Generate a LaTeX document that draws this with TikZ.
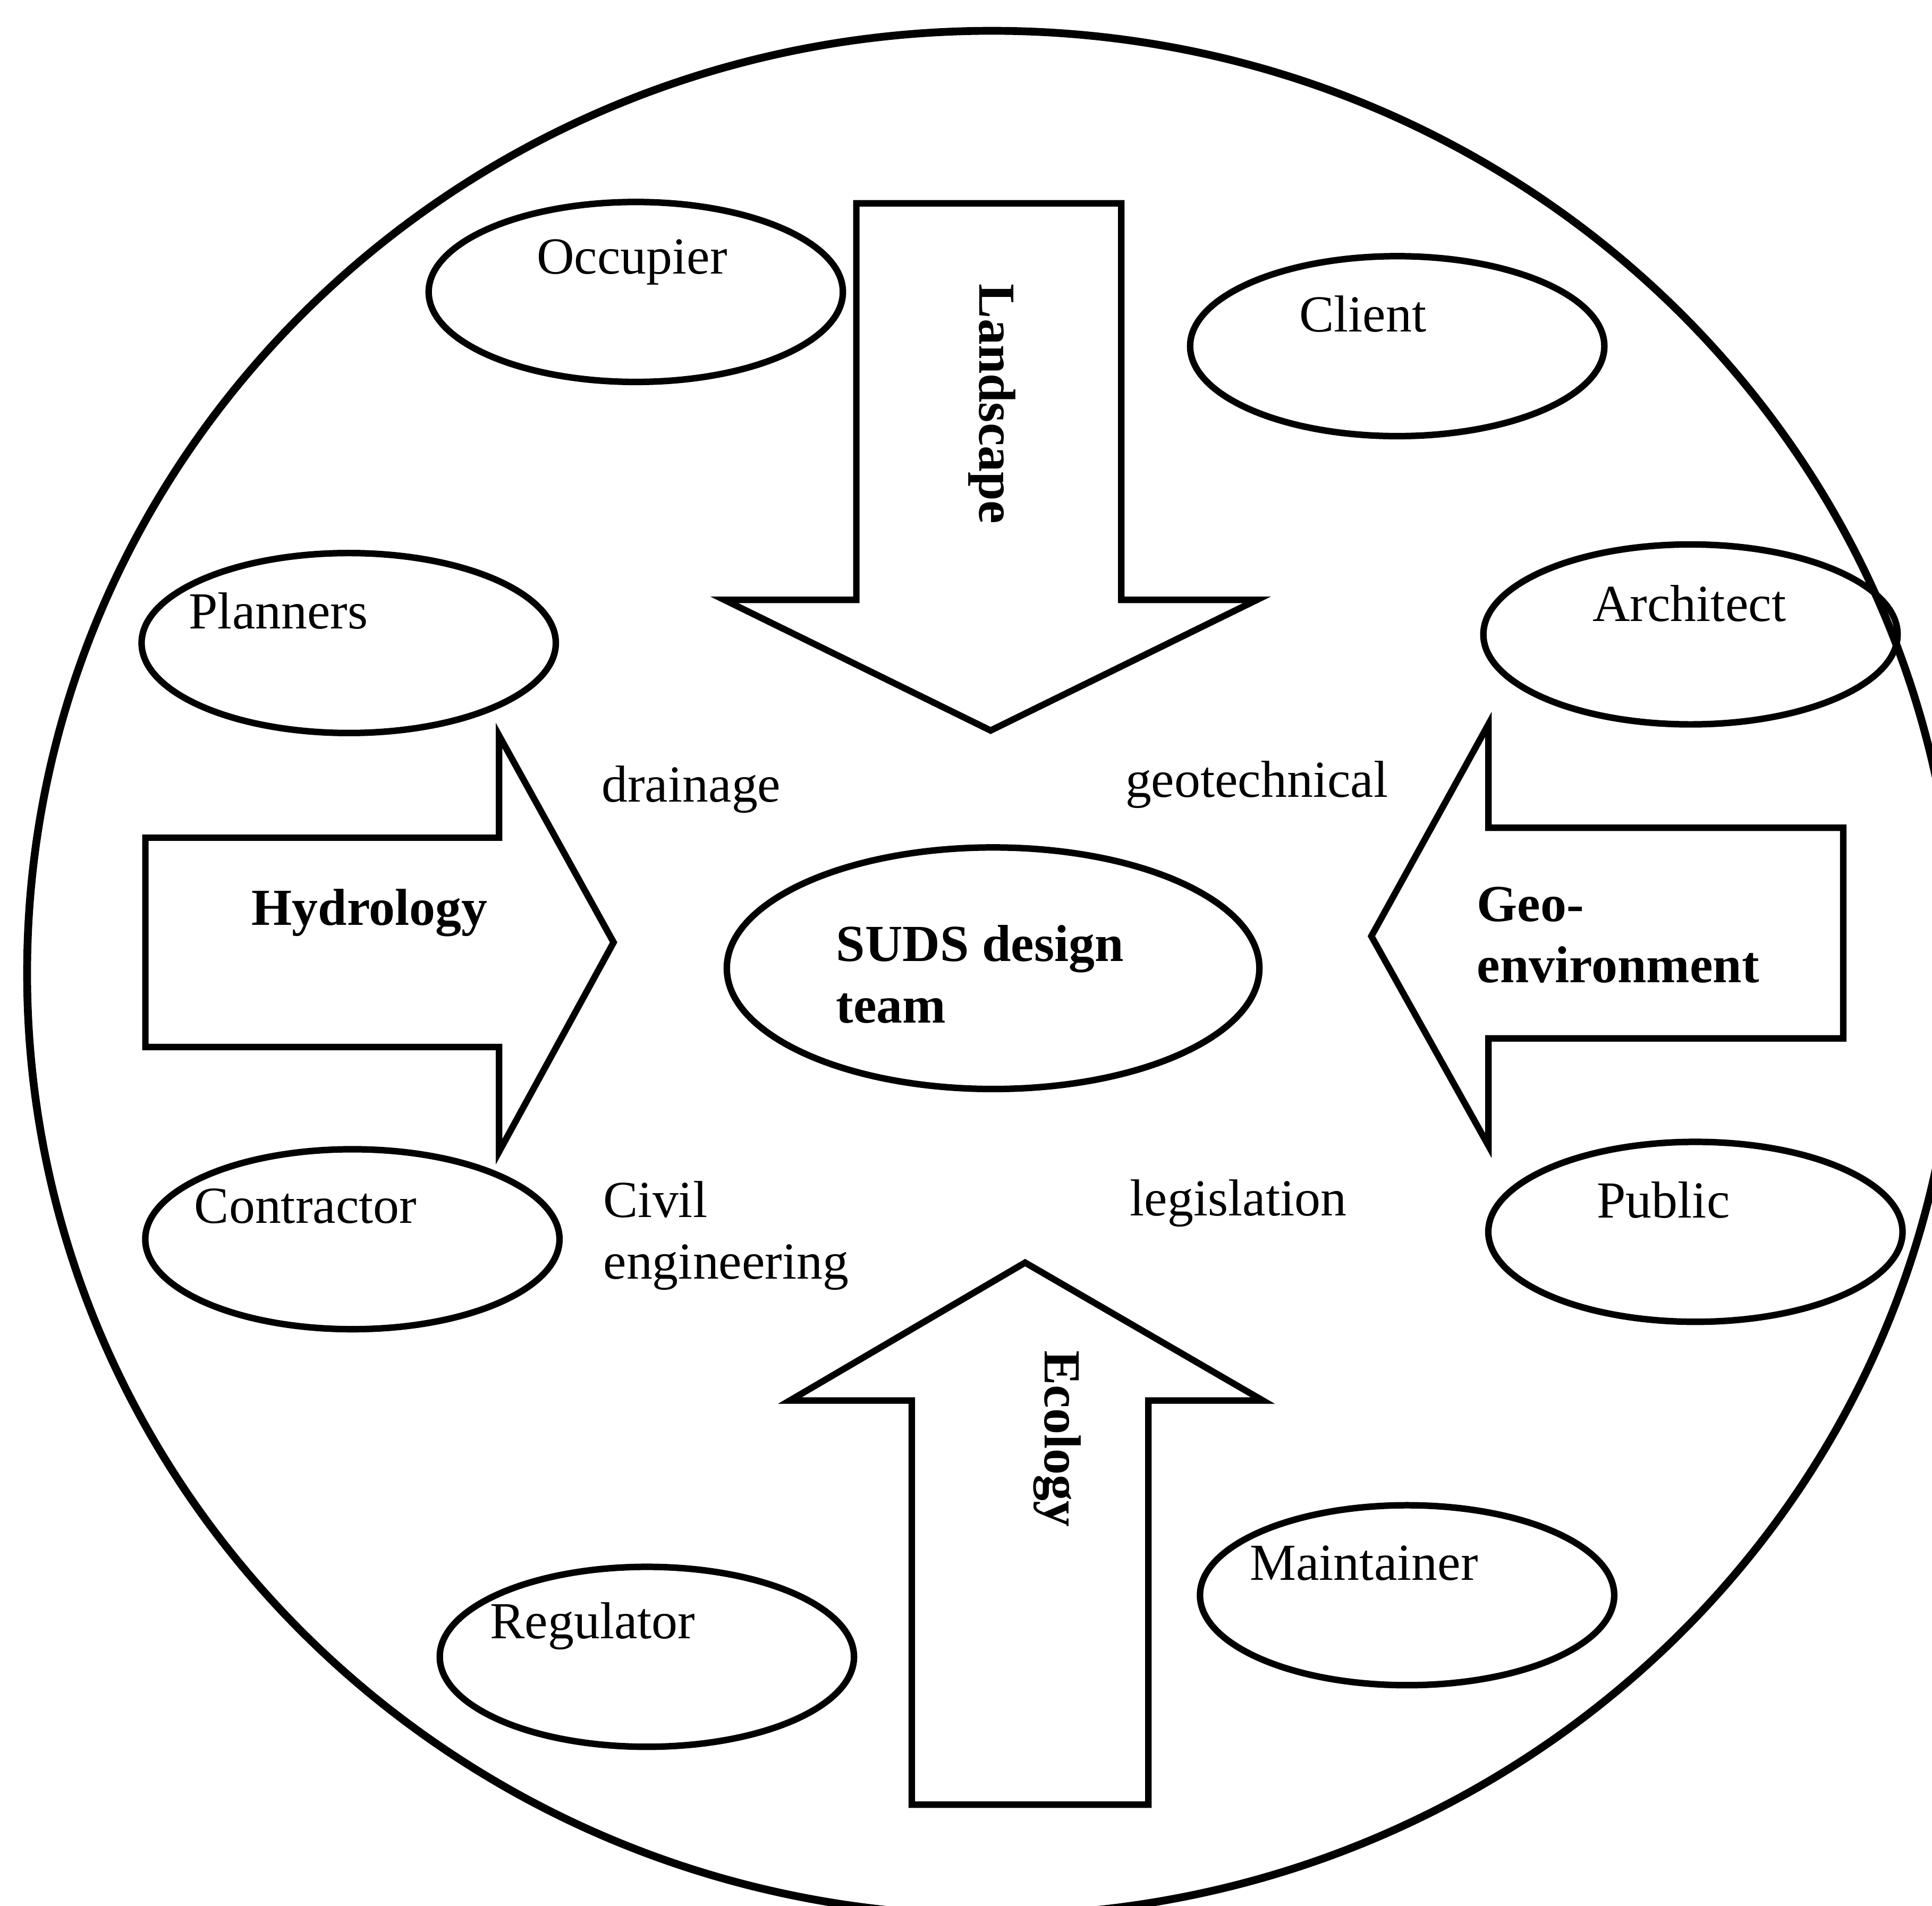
\documentclass[tikz,border=0pt]{standalone}
\usepackage{fontspec}
\setmainfont{Liberation Serif}
\usetikzlibrary{shapes.geometric}
\begin{document}
\begin{tikzpicture}[x=0.01cm,y=-0.01cm,
  outline/.style={draw=black,line width=1.5pt,line join=miter},
  party/.style={ellipse,draw=black,line width=1.5pt,minimum width=3.36cm,minimum height=1.46cm,inner sep=0pt},
  core/.style={ellipse,draw=black,line width=1.5pt,minimum width=4.32cm,minimum height=1.96cm,inner sep=0pt},
  lbl/.style={font=\fontsize{12}{14.2}\selectfont,inner sep=0pt},
  blbl/.style={font=\fontsize{12}{14.2}\selectfont\bfseries,inner sep=0pt}]
\useasboundingbox (0,0) rectangle (1568,1547);
\clip (0,0) rectangle (1568,1547);
% outer boundary
\draw[line width=1.8pt] (805,790) ellipse [x radius=783, y radius=765];
% block arrows
\draw[outline] (695,165) -- (910,165) -- (910,487) -- (1020,487) -- (804,593) -- (588,487) -- (695,487) -- cycle;
\draw[outline] (740,1465) -- (932,1465) -- (932,1137) -- (1025,1137) -- (832,1025) -- (641,1137) -- (740,1137) -- cycle;
\draw[outline] (118,680) -- (405,680) -- (405,597) -- (498,765) -- (405,935) -- (405,850) -- (118,850) -- cycle;
\draw[outline] (1496,672) -- (1208,672) -- (1208,588) -- (1113,760) -- (1208,930) -- (1208,843) -- (1496,843) -- cycle;
\node[blbl,rotate=-90] (landscape) at (805,328) {Landscape};
\node[blbl,rotate=-90] (ecology) at (858,1168) {Ecology};
\node[blbl] (hydrology) at (300,741) {Hydrology};
\node[blbl,align=left,anchor=west] (geoenv) at (1198,759) {Geo-\\environment};
% stakeholder ellipses
\node[party] (occupier) at (516,237) {};
\node[lbl] (occupiert) at (513,213) {Occupier};
\node[party] (client) at (1134,281) {};
\node[lbl] (clientt) at (1106,255) {Client};
\node[party] (planners) at (283,522) {};
\node[lbl] (plannerst) at (226,496) {Planners};
\node[party] (architect) at (1372,515) {};
\node[lbl] (architectt) at (1371,490) {Architect};
\node[party] (contractor) at (286,1006) {};
\node[lbl] (contractort) at (248,979) {Contractor};
\node[party] (public) at (1376,1000) {};
\node[lbl] (publict) at (1350,974) {Public};
\node[party] (regulator) at (525,1345) {};
\node[lbl] (regulatort) at (481,1320) {Regulator};
\node[party] (maintainer) at (1142,1295) {};
\node[lbl] (maintainert) at (1107,1269) {Maintainer};
% centre
\node[core] (suds) at (806,786) {};
\node[blbl,align=left,anchor=west] (sudst) at (678,791) {SUDS design\\team};
% discipline labels
\node[lbl] (drainage) at (561,641) {drainage};
\node[lbl] (geotech) at (1020,637) {geotechnical};
\node[lbl,align=left,anchor=west] (civil) at (489,1003) {Civil\\engineering};
\node[lbl] (legislation) at (1005,977) {legislation};
\end{tikzpicture}
\end{document}
